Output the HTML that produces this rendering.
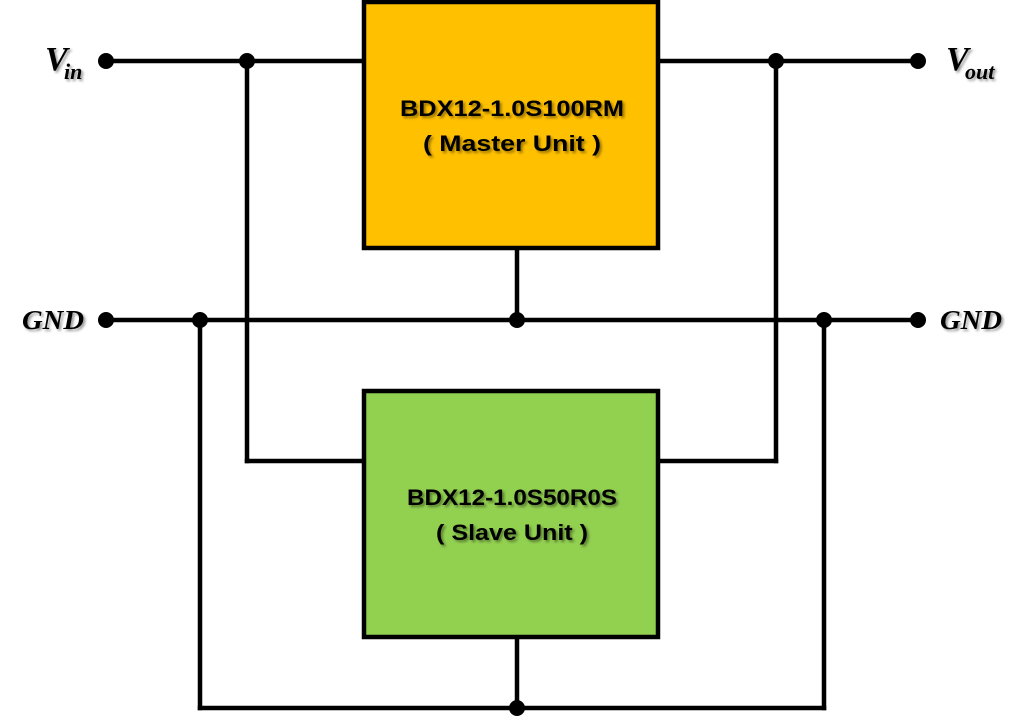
<!DOCTYPE html>
<html><head><meta charset="utf-8"><style>
html,body{margin:0;padding:0;background:#fff;}
svg{display:block;}
.lbl{font-family:"Liberation Serif",serif;font-weight:bold;font-style:italic;fill:#000;}
.box{font-family:"Liberation Sans",sans-serif;font-weight:bold;fill:#000;}
</style></head><body>
<svg width="1024" height="717" viewBox="0 0 1024 717" xmlns="http://www.w3.org/2000/svg">
<defs><filter id="sh" x="-10%" y="-10%" width="130%" height="140%"><feDropShadow dx="2" dy="2" stdDeviation="1.2" flood-color="#000" flood-opacity="0.4"/></filter></defs>
<g stroke="#000" stroke-width="4.5" fill="none" stroke-linecap="square">
<line x1="106" y1="61" x2="364" y2="61"/>
<line x1="658" y1="61" x2="918" y2="61"/>
<line x1="106" y1="320" x2="918" y2="320"/>
<line x1="247" y1="61" x2="247" y2="461"/>
<line x1="247" y1="461" x2="364" y2="461"/>
<line x1="776" y1="61" x2="776" y2="461"/>
<line x1="658" y1="461" x2="776" y2="461"/>
<line x1="517" y1="248" x2="517" y2="320"/>
<line x1="200" y1="320" x2="200" y2="708"/>
<line x1="824" y1="320" x2="824" y2="708"/>
<line x1="200" y1="708" x2="824" y2="708"/>
<line x1="517" y1="637" x2="517" y2="708"/>
</g>
<rect x="364" y="2" width="294" height="246" fill="#FFC000" stroke="#000" stroke-width="4.5"/>
<rect x="364" y="391" width="294" height="246" fill="#92D050" stroke="#000" stroke-width="4.5"/>
<g fill="#000">
<circle cx="106" cy="61" r="8"/><circle cx="247" cy="61" r="8"/><circle cx="776" cy="61" r="8"/><circle cx="918" cy="61" r="8"/>
<circle cx="106" cy="320" r="8"/><circle cx="200" cy="320" r="8"/><circle cx="517" cy="320" r="8"/><circle cx="824" cy="320" r="8"/><circle cx="918" cy="320" r="8"/>
<circle cx="517" cy="708" r="8"/>
</g>
<g filter="url(#sh)">
<text class="box" x="512" y="116" font-size="22" text-anchor="middle" textLength="224" lengthAdjust="spacingAndGlyphs">BDX12-1.0S100RM</text>
<text class="box" x="512" y="151" font-size="22" text-anchor="middle" textLength="178" lengthAdjust="spacingAndGlyphs">( Master Unit )</text>
<text class="box" x="512" y="505" font-size="22" text-anchor="middle" textLength="210" lengthAdjust="spacingAndGlyphs">BDX12-1.0S50R0S</text>
<text class="box" x="512" y="540" font-size="22" text-anchor="middle" textLength="152" lengthAdjust="spacingAndGlyphs">( Slave Unit )</text>
<text class="lbl" x="45" y="70" font-size="34">V</text>
<text class="lbl" x="64" y="79" font-size="22">in</text>
<text class="lbl" x="946" y="70" font-size="34">V</text>
<text class="lbl" x="965" y="79" font-size="22">out</text>
<text class="lbl" x="22" y="329" font-size="27" textLength="62" lengthAdjust="spacingAndGlyphs">GND</text>
<text class="lbl" x="940" y="329" font-size="27" textLength="62" lengthAdjust="spacingAndGlyphs">GND</text>
</g>
</svg>
</body></html>
